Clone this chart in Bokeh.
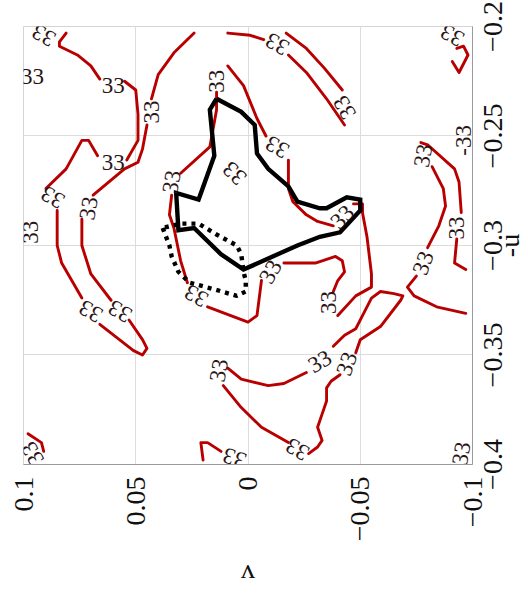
import math
from bokeh.plotting import figure
from bokeh.models import Range1d, FixedTicker, ColumnDataSource
from bokeh.core.properties import value
from bokeh.embed import file_html
from bokeh.resources import INLINE

# ---------------- data ----------------
# The reference is an ordinary u-v chart shown turned a quarter turn
# anticlockwise; it is built the ordinary way and turned as a whole.
u_ticks = [-0.4, -0.35, -0.3, -0.25, -0.2]
u_tick_labels = ["\u22120.4", "\u22120.35", "\u22120.3", "\u22120.25", "\u22120.2"]
v_ticks = [-0.1, -0.05, 0.0, 0.05, 0.1]
v_tick_labels = ["\u22120.1", "\u22120.05", "0", "0.05", "0.1"]
u_title = "-u"
v_title = "v"

# red contour pieces (u, v)
contour_u = [
    [-0.203, -0.207, -0.209, -0.213, -0.218, -0.224],
    [-0.225, -0.229, -0.240, -0.252, -0.261],
    [-0.259, -0.252, -0.252, -0.265, -0.274],
    [-0.284, -0.300, -0.308, -0.324],
    [-0.336, -0.348, -0.350, -0.347, -0.343, -0.334],
    [-0.325, -0.313, -0.300, -0.288],
    [-0.277, -0.265, -0.262, -0.256, -0.245],
    [-0.233, -0.222, -0.212, -0.203],
    [-0.203, -0.204, -0.206],
    [-0.213, -0.221, -0.233, -0.245],
    [-0.203, -0.210, -0.219, -0.229],
    [-0.218, -0.227, -0.242, -0.250],
    [-0.261, -0.274, -0.280, -0.286, -0.289, -0.291],
    [-0.281, -0.281, -0.285, -0.296, -0.313, -0.319, -0.323, -0.332],
    [-0.321, -0.316, -0.312, -0.307, -0.305, -0.308, -0.308],
    [-0.316, -0.332, -0.335, -0.328],
    [-0.317, -0.307, -0.292, -0.286, -0.277],
    [-0.267, -0.255, -0.238, -0.230],
    [-0.356, -0.361, -0.364, -0.363, -0.358],
    [-0.346, -0.341, -0.338, -0.332, -0.324, -0.321, -0.322, -0.323, -0.325, -0.337, -0.343, -0.349],
    [-0.359, -0.362, -0.365, -0.371, -0.377, -0.383, -0.389, -0.392, -0.395],
    [-0.390, -0.383, -0.374, -0.364],
    [-0.398, -0.390, -0.390, -0.394],
    [-0.386, -0.390, -0.394],
    [-0.253, -0.254, -0.265, -0.271, -0.285],
    [-0.297, -0.308, -0.311],
    [-0.264, -0.274, -0.282, -0.291, -0.301],
    [-0.314, -0.319, -0.323, -0.328, -0.331],
    [-0.210, -0.209, -0.213, -0.221, -0.216],
]
contour_v = [
    [0.081, 0.084, 0.084, 0.076, 0.070, 0.066],
    [0.055, 0.050, 0.049, 0.049, 0.054],
    [0.067, 0.071, 0.074, 0.081, 0.090],
    [0.085, 0.085, 0.083, 0.074],
    [0.066, 0.051, 0.047, 0.045, 0.047, 0.053],
    [0.061, 0.070, 0.074, 0.074],
    [0.069, 0.055, 0.049, 0.047, 0.045],
    [0.043, 0.040, 0.033, 0.024],
    [0.009, -0.001, -0.007],
    [-0.018, -0.026, -0.035, -0.043],
    [-0.017, -0.026, -0.034, -0.042],
    [0.009, 0.002, -0.004, -0.008],
    [-0.018, -0.018, -0.020, -0.026, -0.031, -0.038],
    [-0.047, -0.051, -0.051, -0.053, -0.055, -0.055, -0.048, -0.040],
    [-0.038, -0.040, -0.043, -0.042, -0.039, -0.030, -0.016],
    [-0.006, -0.004, 0.000, 0.018],
    [0.027, 0.030, 0.033, 0.035, 0.034],
    [0.030, 0.017, 0.014, 0.014],
    [0.009, 0.003, -0.009, -0.016, -0.026],
    [-0.038, -0.043, -0.048, -0.051, -0.055, -0.059, -0.065, -0.069, -0.068, -0.059, -0.050, -0.048],
    [-0.041, -0.037, -0.035, -0.035, -0.033, -0.031, -0.033, -0.031, -0.027],
    [-0.018, -0.006, 0.003, 0.011],
    [0.020, 0.021, 0.018, 0.012],
    [0.098, 0.092, 0.091],
    [-0.077, -0.080, -0.092, -0.094, -0.095],
    [-0.093, -0.092, -0.097],
    [-0.082, -0.087, -0.088, -0.085, -0.080],
    [-0.075, -0.071, -0.074, -0.084, -0.097],
    [-0.093, -0.096, -0.098, -0.094, -0.091],
]

# black solid boundary (u, v)
solid_u = [-0.233, -0.239, -0.245, -0.258, -0.265, -0.273, -0.280, -0.283, -0.283, -0.278,
           -0.279, -0.284, -0.294, -0.296, -0.300, -0.305, -0.311, -0.304, -0.292, -0.293,
           -0.276, -0.279, -0.259, -0.238, -0.233]
solid_v = [0.014, 0.003, -0.003, -0.004, -0.009, -0.018, -0.022, -0.032, -0.035, -0.044,
           -0.050, -0.050, -0.041, -0.032, -0.022, -0.011, 0.002, 0.012, 0.024, 0.031,
           0.032, 0.022, 0.015, 0.017, 0.014]

# black dotted boundary (u, v)
dotted_u = [-0.292, -0.300, -0.305, -0.312, -0.317, -0.320, -0.323, -0.321, -0.316, -0.312,
            -0.304, -0.300, -0.295, -0.290, -0.290, -0.292]
dotted_v = [0.038, 0.035, 0.034, 0.031, 0.026, 0.015, 0.005, 0.001, 0.001, 0.002,
            0.003, 0.005, 0.014, 0.022, 0.030, 0.038]

# contour labels
label_u = [-0.204, -0.223, -0.227, -0.262, -0.278, -0.283, -0.239, -0.330, -0.330, -0.294,
           -0.395, -0.225, -0.271, -0.267, -0.208, -0.237, -0.255, -0.287, -0.323, -0.312,
           -0.326, -0.353, -0.354, -0.357, -0.393, -0.397, -0.259, -0.292, -0.308, -0.252,
           -0.204, -0.395]
label_v = [0.091, 0.096, 0.060, 0.060, 0.087, 0.071, 0.043, 0.070, 0.057, 0.097,
           0.096, 0.014, 0.034, 0.006, -0.013, -0.043, -0.013, -0.042, 0.023, -0.010,
           -0.036, -0.032, -0.044, 0.013, -0.022, 0.006, -0.078, -0.093, -0.078, -0.096,
           -0.091, -0.095]
label_text = ["33"] * 29 + ["-33", "33", "33"]
label_angle_deg = [60, -90, -90, -90, 60, -10, 0, 60, 60, 0,
                   30, 0, -10, 45, 60, 30, 60, -45, 60, -30,
                   0, -60, -20, -10, 60, 70, -10, 0, -20, 0,
                   60, -10]

# ---------------- figure ----------------
SERIF = "Liberation Serif"
PAGE_W, PAGE_H = 528, 594
SIDE = 594                 # square canvas, so turning it does not change its box
SPARE = SIDE - PAGE_W      # unused strip that ends up left of the page

p = figure(width=SIDE, height=SIDE, output_backend="svg", toolbar_location=None,
           x_range=Range1d(-0.4, -0.2), y_range=Range1d(-0.1, 0.1),
           min_border_left=119, min_border_right=27,
           min_border_top=23 + SPARE, min_border_bottom=56)
p.styles = {"transform": f"translate(-{SPARE}px, {SIDE}px) rotate(-90deg)",
            "transform-origin": "0 0"}
p.background_fill_color = "white"
p.border_fill_color = "white"
p.outline_line_color = "#d4d4d4"

xa = p.xaxis[0]
ya = p.yaxis[0]
for ax, ticks, labs, standoff in ((xa, u_ticks, u_tick_labels, 5),
                                   (ya, v_ticks, v_tick_labels, 6)):
    ax.ticker = FixedTicker(ticks=ticks)
    ax.major_label_overrides = dict(zip(ticks, labs))
    ax.major_label_text_font = SERIF
    ax.major_label_text_font_size = "28px"
    ax.major_label_text_color = "#111111"
    ax.major_label_standoff = standoff
    ax.major_tick_line_color = None
    ax.minor_tick_line_color = None
    ax.axis_line_color = "#9a9a9a"
    ax.axis_line_width = 1
    ax.axis_label_text_font = SERIF
    ax.axis_label_text_font_size = "28px"
    ax.axis_label_text_font_style = "normal"
    ax.axis_label_text_color = "#111111"

xa.axis_label = u_title
ya.axis_label = v_title
xa.axis_label_standoff = -11
ya.axis_label_standoff = 15

p.xgrid.ticker = FixedTicker(ticks=u_ticks)
p.ygrid.ticker = FixedTicker(ticks=v_ticks)
p.grid.grid_line_color = "#dcdcdc"
p.grid.grid_line_width = 1

p.multi_line(xs=contour_u, ys=contour_v, line_color="#b80000", line_width=2.9,
             line_join="round", line_cap="round")
p.line(solid_u, solid_v, line_color="black", line_width=4.4, line_join="miter")
p.line(dotted_u, dotted_v, line_color="black", line_width=4.4, line_dash="4 5")

lab_src = ColumnDataSource(dict(x=label_u, y=label_v, t=label_text,
                                a=[math.radians(d) for d in label_angle_deg]))
p.text(x="x", y="y", text="t", angle="a", source=lab_src,
       text_font=value(SERIF), text_font_size="23px", text_color="#2b1414",
       text_align="center", text_baseline="middle")

open("out.html", "w").write(file_html(p, INLINE))
